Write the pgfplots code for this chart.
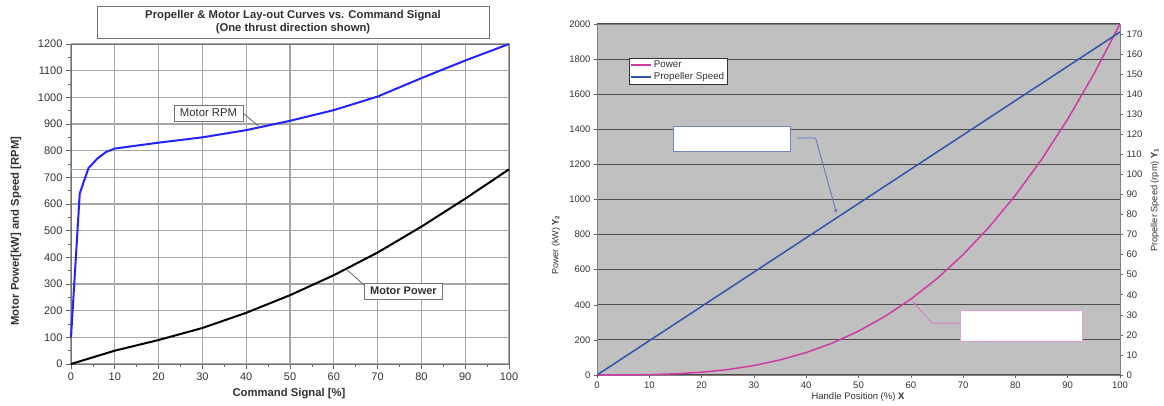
\documentclass[border=0pt]{standalone}
\usepackage{fontspec}
\setmainfont{Liberation Sans}
\usepackage{pgfplots}
\pgfplotsset{compat=1.18}
\definecolor{rpmblue}{RGB}{35,35,255}
\definecolor{pw}{RGB}{205,60,165}
\definecolor{ps}{RGB}{50,85,170}
\definecolor{bg}{RGB}{192,192,192}
\definecolor{txt}{RGB}{50,50,50}
\begin{document}
\begin{tikzpicture}
\path[use as bounding box] (0pt,0pt) rectangle (1164pt,405pt);
% ---------------- left chart ----------------
\begin{axis}[
  at={(71pt,41pt)}, anchor=south west, scale only axis,
  width=438pt, height=320pt,
  xmin=0, xmax=100, ymin=0, ymax=1200,
  xtick distance=10, ytick distance=100,
  minor x tick num=1, minor y tick num=1,
  xtick pos=left, ytick pos=left,
  tick align=outside, major tick length=5pt, minor tick length=3pt,
  grid=major, major grid style={black!35, line width=1.1pt},
  axis line style={black!55, line width=1pt},
  tick style={black!60, line width=0.8pt},
  ticklabel style={font=\fontsize{11}{13}\selectfont, text=black!80},
  /pgf/number format/assume math mode=true,
  scaled ticks=false, /pgf/number format/1000 sep={},
  clip=false,
]
\addplot[black!35, line width=1.1pt] coordinates {(0,730) (100,730)};
\addplot[rpmblue, line width=2pt] coordinates {
(0,100) (2,640) (4,735) (6,770) (8,795) (10,808) (20,830) (30,850)
(40,877) (50,912) (60,952) (70,1003) (80,1072) (90,1138) (100,1200)};
\addplot[black, line width=2pt] coordinates {
(0,0) (10,50) (20,90) (30,135) (40,192) (50,258) (60,333) (70,418)
(80,515) (90,620) (100,730)};
\draw[black!60, line width=0.8pt] (axis cs:39.3,941) -- (axis cs:42.8,892);
\draw[black!55, fill=white, line width=0.8pt] (axis cs:23.5,911) rectangle (axis cs:39.3,971);
\node[font=\fontsize{11.3}{13}\selectfont, text=txt] at (axis cs:31.4,941) {Motor RPM};
\draw[black!60, line width=0.8pt] (axis cs:66.9,296) -- (axis cs:62.9,355);
\draw[black!55, fill=white, line width=0.8pt] (axis cs:66.9,244) rectangle (axis cs:84.9,304);
\node[font=\bfseries\fontsize{11}{13}\selectfont, text=txt] at (axis cs:75.9,274) {Motor Power};
\end{axis}
\node[draw=black!55, fill=white, line width=0.8pt, minimum width=392pt, minimum height=32pt,
      align=center, font=\bfseries\fontsize{11.3}{12.8}\selectfont, text=txt]
  at (293pt,383pt) {Propeller \& Motor Lay-out Curves vs. Command Signal\\(One thrust direction shown)};
\node[rotate=90, font=\bfseries\fontsize{11.3}{13}\selectfont, text=txt] at (16pt,174pt)
  {Motor Power[kW] and Speed [RPM]};
\node[font=\bfseries\fontsize{11.3}{13}\selectfont, text=txt] at (289pt,11pt) {Command Signal [\%]};
% ---------------- right chart ----------------
\begin{axis}[
  at={(597pt,30pt)}, anchor=south west, scale only axis,
  width=523pt, height=351pt,
  xmin=0, xmax=100, ymin=0, ymax=2000,
  xtick distance=10, ytick distance=200,
  xtick pos=left, ytick pos=left,
  tick align=outside, major tick length=3pt,
  axis background/.style={fill=bg},
  ymajorgrids, major grid style={black!70, line width=1.1pt},
  axis line style={black!50, line width=0.8pt},
  tick style={black!60, line width=0.6pt},
  ticklabel style={font=\fontsize{9.5}{11}\selectfont, text=black!80},
  /pgf/number format/assume math mode=true,
  scaled ticks=false, /pgf/number format/1000 sep={},
  clip=false,
]
\addplot[pw, line width=1.5pt] coordinates {
(0,0) (5,0.25) (10,2) (15,6.75) (20,16) (25,31) (30,54) (35,86) (40,128)
(45,182) (50,250) (55,333) (60,432) (65,549) (70,686) (75,844) (80,1024)
(85,1228) (90,1458) (95,1715) (100,2000)};
\draw[ps!70, fill=white, line width=0.6pt] (axis cs:14.6,1272) rectangle (axis cs:36.9,1415);
\draw[ps!80, line width=0.8pt, -stealth] (axis cs:38.2,1350) -- (axis cs:41.8,1350) -- (axis cs:45.8,923);
\draw[pw!50, fill=white, line width=0.6pt] (axis cs:69.5,190) rectangle (axis cs:92.7,366);
\draw[pw!70, line width=0.8pt, -stealth] (axis cs:69.5,294.6) -- (axis cs:64.1,294.6) -- (axis cs:60.4,417.6);
\end{axis}
\begin{axis}[
  at={(597pt,30pt)}, anchor=south west, scale only axis,
  width=523pt, height=351pt,
  xmin=0, xmax=100, ymin=0, ymax=175,
  axis x line=none, axis y line*=right,
  ytick distance=10,
  tick align=outside, major tick length=3pt,
  axis line style={black!50, line width=0.8pt},
  tick style={black!60, line width=0.6pt},
  ticklabel style={font=\fontsize{9.5}{11}\selectfont, text=black!80},
  /pgf/number format/assume math mode=true,
  legend style={at={(0.061,0.903)}, anchor=north west, draw=black!80, fill=white,
    font=\fontsize{9.8}{10.5}\selectfont, inner sep=1pt, row sep=-1pt,
    cells={anchor=west}, text=black!80},
  legend image code/.code={\draw[#1] (0pt,0pt) -- (20pt,0pt);},
]
\addlegendimage{pw, line width=1.8pt}
\addlegendentry{Power}
\addplot[ps, line width=1.5pt] coordinates {(0,0) (20,34.2) (40,68.4) (60,102.6) (80,136.8) (100,171)};
\addlegendentry{Propeller Speed}
\end{axis}
\node[rotate=90, font=\fontsize{9.2}{10}\selectfont, text=black!80] at (1155pt,205pt)
  {Propeller Speed (rpm) \textbf{Y\textsubscript{1}}};
\node[rotate=90, font=\fontsize{9}{10}\selectfont, text=black!80] at (556pt,160pt)
  {Power (kW) \textbf{Y\textsubscript{2}}};
\node[font=\fontsize{9.5}{10}\selectfont, text=black!80] at (858pt,8pt)
  {Handle Position (\%) \textbf{X}};
\end{tikzpicture}
\end{document}
